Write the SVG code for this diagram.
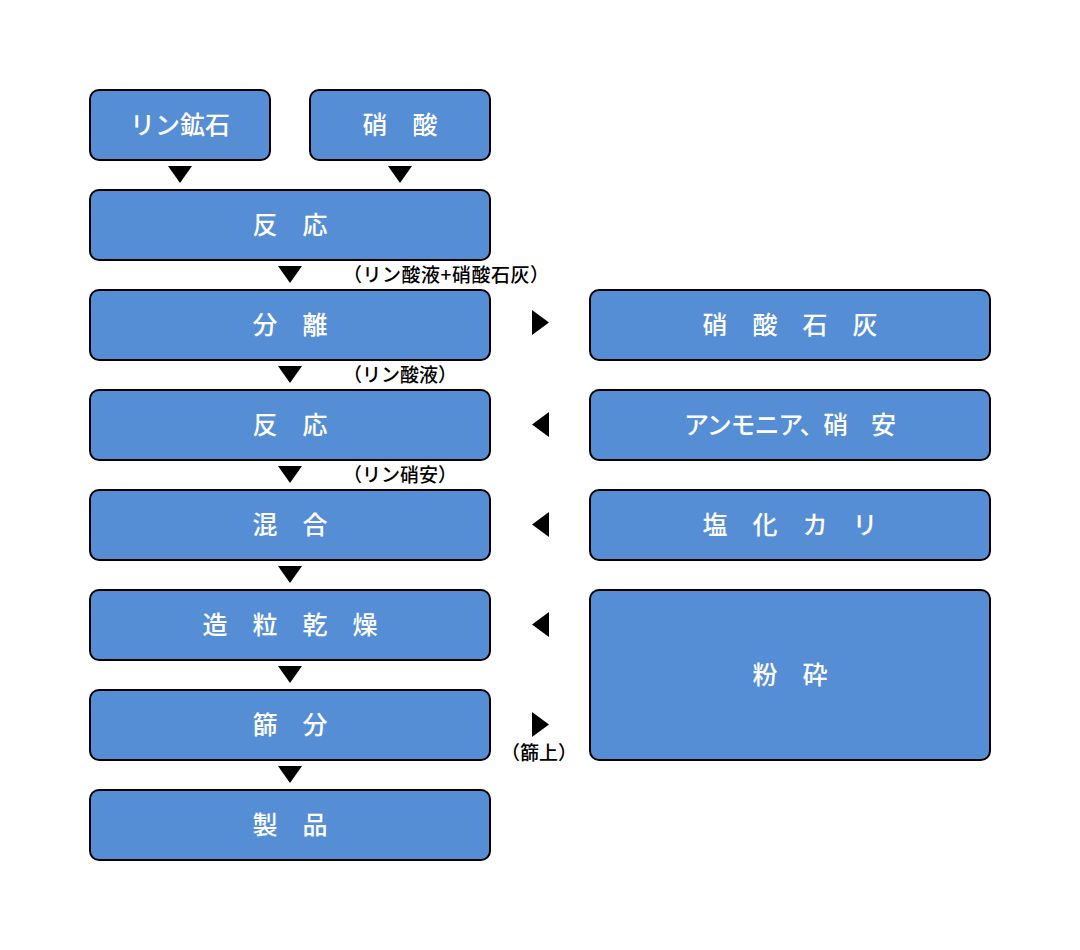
<svg xmlns="http://www.w3.org/2000/svg" width="1080" height="950" viewBox="0 0 1080 950">
<style>
.box{fill:#558ed5;stroke:#000;stroke-width:2}
.t{fill:#fff;font-family:"Noto Sans CJK JP","Noto Sans",sans-serif;font-size:25px;font-weight:500;text-anchor:middle;dominant-baseline:central}
.lbl{fill:#000;font-family:"Noto Sans CJK JP","Noto Sans",sans-serif;font-size:19px;font-weight:500;dominant-baseline:central}
.tri{fill:#000}
</style>
<rect width="1080" height="950" fill="#fff"/>
<g id="n-ore"><rect class="box" x="90" y="90" width="180" height="70" rx="9"/><text class="t" x="180" y="123">リン鉱石</text></g>
<g id="n-nitric"><rect class="box" x="310" y="90" width="180" height="70" rx="9"/><text class="t" x="400" y="123">硝　酸</text></g>
<g id="n-react1"><rect class="box" x="90" y="190" width="400" height="70" rx="9"/><text class="t" x="290" y="223">反　応</text></g>
<g id="n-sep"><rect class="box" x="90" y="290" width="400" height="70" rx="9"/><text class="t" x="290" y="323">分　離</text></g>
<g id="n-react2"><rect class="box" x="90" y="390" width="400" height="70" rx="9"/><text class="t" x="290" y="423">反　応</text></g>
<g id="n-mix"><rect class="box" x="90" y="490" width="400" height="70" rx="9"/><text class="t" x="290" y="523">混　合</text></g>
<g id="n-gran"><rect class="box" x="90" y="590" width="400" height="70" rx="9"/><text class="t" x="290" y="623">造　粒　乾　燥</text></g>
<g id="n-sieve"><rect class="box" x="90" y="690" width="400" height="70" rx="9"/><text class="t" x="290" y="723">篩　分</text></g>
<g id="n-prod"><rect class="box" x="90" y="790" width="400" height="70" rx="9"/><text class="t" x="290" y="823">製　品</text></g>
<g id="n-lime"><rect class="box" x="590" y="290" width="400" height="70" rx="9"/><text class="t" x="790" y="323">硝　酸　石　灰</text></g>
<g id="n-ammonia"><rect class="box" x="590" y="390" width="400" height="70" rx="9"/><text class="t" x="790" y="423" textLength="212" lengthAdjust="spacing">アンモニア、硝　安</text></g>
<g id="n-kcl"><rect class="box" x="590" y="490" width="400" height="70" rx="9"/><text class="t" x="790" y="523">塩　化　カ　リ</text></g>
<g id="n-crush"><rect class="box" x="590" y="590" width="400" height="170" rx="9"/><text class="t" x="790" y="673">粉　砕</text></g>
<g id="connectors">
<polygon class="tri" points="168,166 192,166 180,183"/>
<polygon class="tri" points="388,166 412,166 400,183"/>
<polygon class="tri" points="278,266 302,266 290,283"/>
<polygon class="tri" points="278,366 302,366 290,383"/>
<polygon class="tri" points="278,466 302,466 290,483"/>
<polygon class="tri" points="278,566 302,566 290,583"/>
<polygon class="tri" points="278,666 302,666 290,683"/>
<polygon class="tri" points="278,766 302,766 290,783"/>
<polygon class="tri" points="532,310 532,335 549,322.5"/>
<polygon class="tri" points="549,412 549,437 532,424.5"/>
<polygon class="tri" points="549,512 549,537 532,524.5"/>
<polygon class="tri" points="549,612 549,637 532,624.5"/>
<polygon class="tri" points="532,712 532,737 549,724.5"/>
<text class="lbl" x="343" y="273" textLength="206" lengthAdjust="spacing">（リン酸液+硝酸石灰）</text>
<text class="lbl" x="343" y="373">（リン酸液）</text>
<text class="lbl" x="343" y="473">（リン硝安）</text>
<text class="lbl" x="501" y="751">（篩上）</text>
</g>
</svg>
